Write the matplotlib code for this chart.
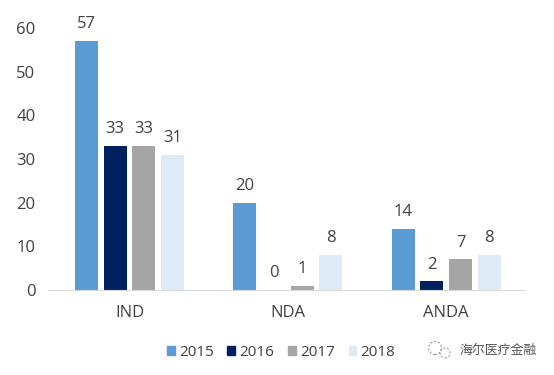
#!/usr/bin/env python3
import matplotlib

matplotlib.use("Agg")
import matplotlib.pyplot as plt
import numpy as np
from matplotlib.patches import Ellipse, Patch

plt.rcParams["font.family"] = ["Open Sans", "Noto Sans CJK SC", "DejaVu Sans"]

categories = ["IND", "NDA", "ANDA"]
years = ["2015", "2016", "2017", "2018"]
values_2015 = [57, 20, 14]
values_2016 = [33, 0, 2]
values_2017 = [33, 1, 7]
values_2018 = [31, 8, 8]
yticks = [0, 10, 20, 30, 40, 50, 60]
watermark = "海尔医疗金融"

series = [values_2015, values_2016, values_2017, values_2018]
colors = ["#5B9BD5", "#002060", "#A5A5A5", "#DEEBF7"]
TEXT = "#404040"

W, H = 554, 375
fig = plt.figure(figsize=(W / 100, H / 100), dpi=100)
# axes box in pixels: left 48, right 525, baseline y=290, value 60 at y=28
ax = fig.add_axes([48 / W, 1 - 290 / H, (525 - 48) / W, 262 / H])

# one category is about 158.3 px wide
x = np.arange(len(categories))
bar_w = 23 / 158.3
step = 28.7 / 158.3
for i, vals in enumerate(series):
    offs = x + (i - 1.5) * step
    ax.bar(offs, vals, width=bar_w, color=colors[i])
    for xx, v in zip(offs, vals):
        ax.text(xx, v + 2.0, str(v), ha="center", va="bottom", fontsize=12, color=TEXT)

ax.set_xlim(-0.515, 2.498)
ax.set_ylim(0, 60)
ax.set_yticks(yticks)
ax.set_xticks(x)
ax.set_xticklabels(categories)
ax.tick_params(axis="both", length=0, labelsize=12, labelcolor=TEXT)
ax.tick_params(axis="x", pad=10.5)
ax.tick_params(axis="y", pad=9)
for s in ["top", "right", "left"]:
    ax.spines[s].set_visible(False)
ax.spines["bottom"].set_color("#D9D9D9")

handles = [Patch(color=c, label=y) for c, y in zip(colors, years)]
fig.legend(
    handles=handles,
    loc="center left",
    bbox_to_anchor=(167 / W, 1 - 352 / H),
    ncol=4,
    frameon=False,
    fontsize=11,
    labelcolor=TEXT,
    borderpad=0,
    borderaxespad=0,
    handlelength=0.52,
    handleheight=0.52,
    handletextpad=0.26,
    columnspacing=0.9,
)

# watermark: dashed chat bubbles and the account name
for cx, cy, d in [(435, 348, 13), (445, 353, 10)]:
    fig.add_artist(
        Ellipse(
            (cx / W, 1 - cy / H),
            d / W,
            d / H,
            transform=fig.transFigure,
            fill=False,
            edgecolor="#888888",
            linewidth=0.7,
            linestyle=(0, (2, 2)),
        )
    )
fig.text(460 / W, 1 - 350 / H, watermark, fontsize=9.3, color="#555555", va="center")

fig.savefig("out.png", dpi=100)
